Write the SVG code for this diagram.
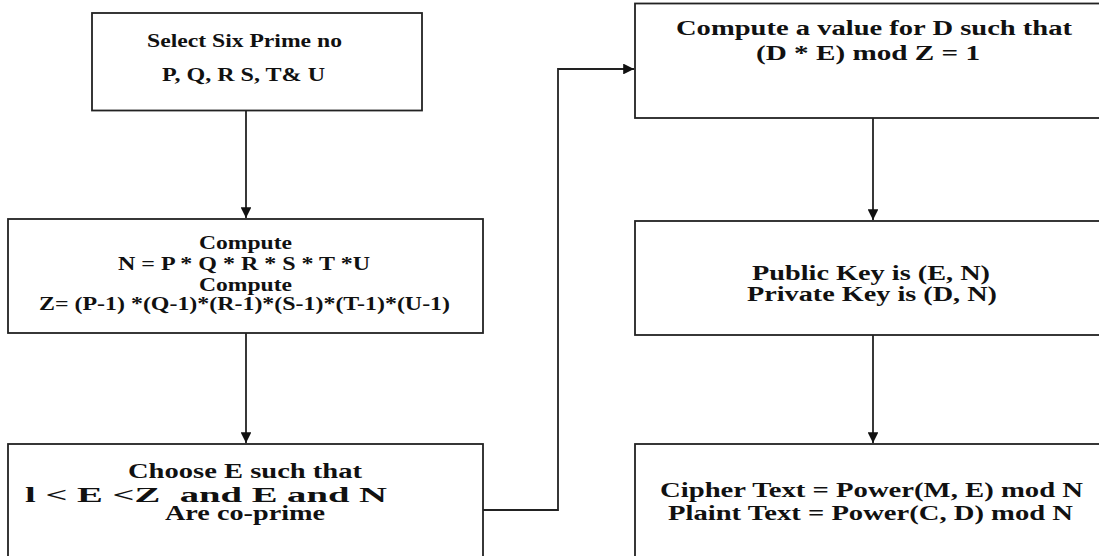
<svg xmlns="http://www.w3.org/2000/svg" width="1099" height="556" viewBox="0 0 1099 556">
<style>
.box{fill:#fff;stroke:#222;stroke-width:1.8}
.t{font-family:"Liberation Serif","Times New Roman",serif;font-weight:bold;fill:#111}
.s18{font-size:18px}
.s20{font-size:20px}
.c{fill:none;stroke:#222;stroke-width:1.8}
</style>
<defs>
<marker id="ah" viewBox="0 0 10 10" refX="10" refY="5" markerWidth="6" markerHeight="6" orient="auto" markerUnits="strokeWidth">
<path d="M0,0 L10,5 L0,10 z" fill="#111"/>
</marker>
</defs>
<rect width="1099" height="556" fill="#fff"/>
<g id="connectors">
<path class="c" d="M246,111 V218" marker-end="url(#ah)"/>
<path class="c" d="M246,333 V443" marker-end="url(#ah)"/>
<path class="c" d="M483,510 H558 V69 H634" marker-end="url(#ah)"/>
<path class="c" d="M873,118 V220" marker-end="url(#ah)"/>
<path class="c" d="M873,335 V443" marker-end="url(#ah)"/>
</g>
<g id="n1">
<rect class="box" x="92" y="13" width="330" height="97.5"/>
<text class="t s18" x="147" y="47" textLength="195" lengthAdjust="spacingAndGlyphs">Select Six Prime no</text>
<text class="t s18" x="162" y="81" textLength="163" lengthAdjust="spacingAndGlyphs">P, Q, R S, T&amp; U</text>
</g>
<g id="n2">
<rect class="box" x="8" y="219" width="475" height="114"/>
<text class="t s18" x="199" y="249" textLength="93" lengthAdjust="spacingAndGlyphs">Compute</text>
<text class="t s18" x="118" y="270" textLength="252" lengthAdjust="spacingAndGlyphs">N = P * Q * R * S * T *U</text>
<text class="t s18" x="199" y="291" textLength="93" lengthAdjust="spacingAndGlyphs">Compute</text>
<text class="t s18" x="39" y="310" textLength="411" lengthAdjust="spacingAndGlyphs">Z= (P-1) *(Q-1)*(R-1)*(S-1)*(T-1)*(U-1)</text>
</g>
<g id="n3">
<rect class="box" x="8" y="444" width="475" height="130"/>
<text class="t s20" x="128" y="478" textLength="234" lengthAdjust="spacingAndGlyphs">Choose E such that</text>
<text class="t s20" x="25" y="502" textLength="362" lengthAdjust="spacingAndGlyphs" xml:space="preserve">l &lt; E &lt;Z  and E and N</text>
<text class="t s20" x="165" y="520" textLength="160" lengthAdjust="spacingAndGlyphs">Are co-prime</text>
</g>
<g id="n4">
<rect class="box" x="635" y="3.5" width="480" height="114.5"/>
<text class="t s20" x="676" y="35" textLength="396" lengthAdjust="spacingAndGlyphs">Compute a value for D such that</text>
<text class="t s20" x="756" y="60" textLength="224" lengthAdjust="spacingAndGlyphs">(D * E) mod Z = 1</text>
</g>
<g id="n5">
<rect class="box" x="635" y="221" width="480" height="114"/>
<text class="t s20" x="752" y="280" textLength="238" lengthAdjust="spacingAndGlyphs">Public Key is (E, N)</text>
<text class="t s20" x="747" y="301" textLength="250" lengthAdjust="spacingAndGlyphs">Private Key is (D, N)</text>
</g>
<g id="n6">
<rect class="box" x="635" y="444" width="480" height="130"/>
<text class="t s20" x="660" y="497" textLength="423" lengthAdjust="spacingAndGlyphs">Cipher Text = Power(M, E) mod N</text>
<text class="t s20" x="668" y="520" textLength="405" lengthAdjust="spacingAndGlyphs">Plaint Text = Power(C, D) mod N</text>
</g>
</svg>
